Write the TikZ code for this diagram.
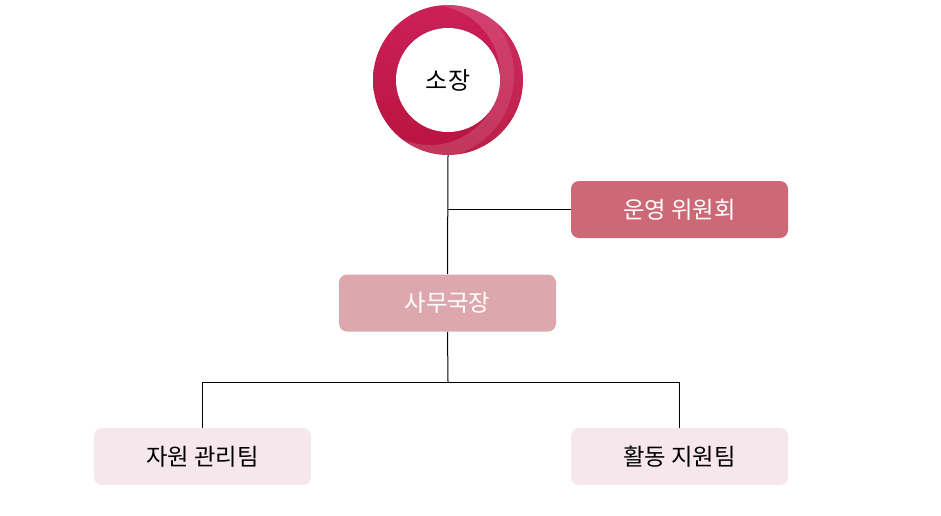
\documentclass[tikz,border=0pt]{standalone}
\usepackage{fontspec}
\setmainfont{Noto Sans CJK KR}
\usetikzlibrary{arrows.meta}

\definecolor{ringtop}{HTML}{CC2059}
\definecolor{ringbottom}{HTML}{B8143F}
\definecolor{boardred}{HTML}{CD6877}
\definecolor{officepink}{HTML}{DDA8AD}
\definecolor{teampink}{HTML}{F5E7EB}

\begin{document}
\begin{tikzpicture}[x=0.75pt,y=-0.75pt]
      \useasboundingbox (0,0) rectangle (941,515);
      \tikzstyle{unit}=[rounded corners=6pt, minimum width=162.75pt, minimum height=42.75pt, inner sep=0pt, font=\fontsize{17.5pt}{20pt}\selectfont]
      \tikzstyle{link}=[draw=black, line width=0.75pt]
      % director ring
      \shade [top color=ringtop, bottom color=ringbottom] (448,80) circle (56.25pt);
      \begin{scope}
        \clip (448,80) circle (56.25pt);
        \fill [white, opacity=0.15, even odd rule] (430,75) circle (63pt) (430,75) circle (52.5pt);
        \fill [white, opacity=0.05, even odd rule] (448,80) circle (56.25pt) (430,75) circle (63pt);
      \end{scope}
      \node (head) [circle, fill=white, minimum size=78pt, inner sep=0pt, font=\fontsize{18pt}{21pt}\selectfont] at (448,80) {소장};
      \coordinate (ringbot) at (448,155);
      \node (board) [unit, fill=boardred, text=white] at (679.5,209.5) {운영 위원회};
      \node (office) [unit, fill=officepink, text=white] at (447.5,303) {사무국장};
      \node (res) [unit, fill=teampink] at (202.5,456.5) {자원 관리팀};
      \node (act) [unit, fill=teampink] at (679.5,456.5) {활동 지원팀};
      \coordinate (split) at (448,382);
      \draw [link] (ringbot) -- (office.north);
      \draw [link] (board.west) -- (board.west -| ringbot);
      \draw [link] (office.south) -- (split);
      \draw [link] (res.north) |- (split) -| (act.north);
\end{tikzpicture}
\end{document}
